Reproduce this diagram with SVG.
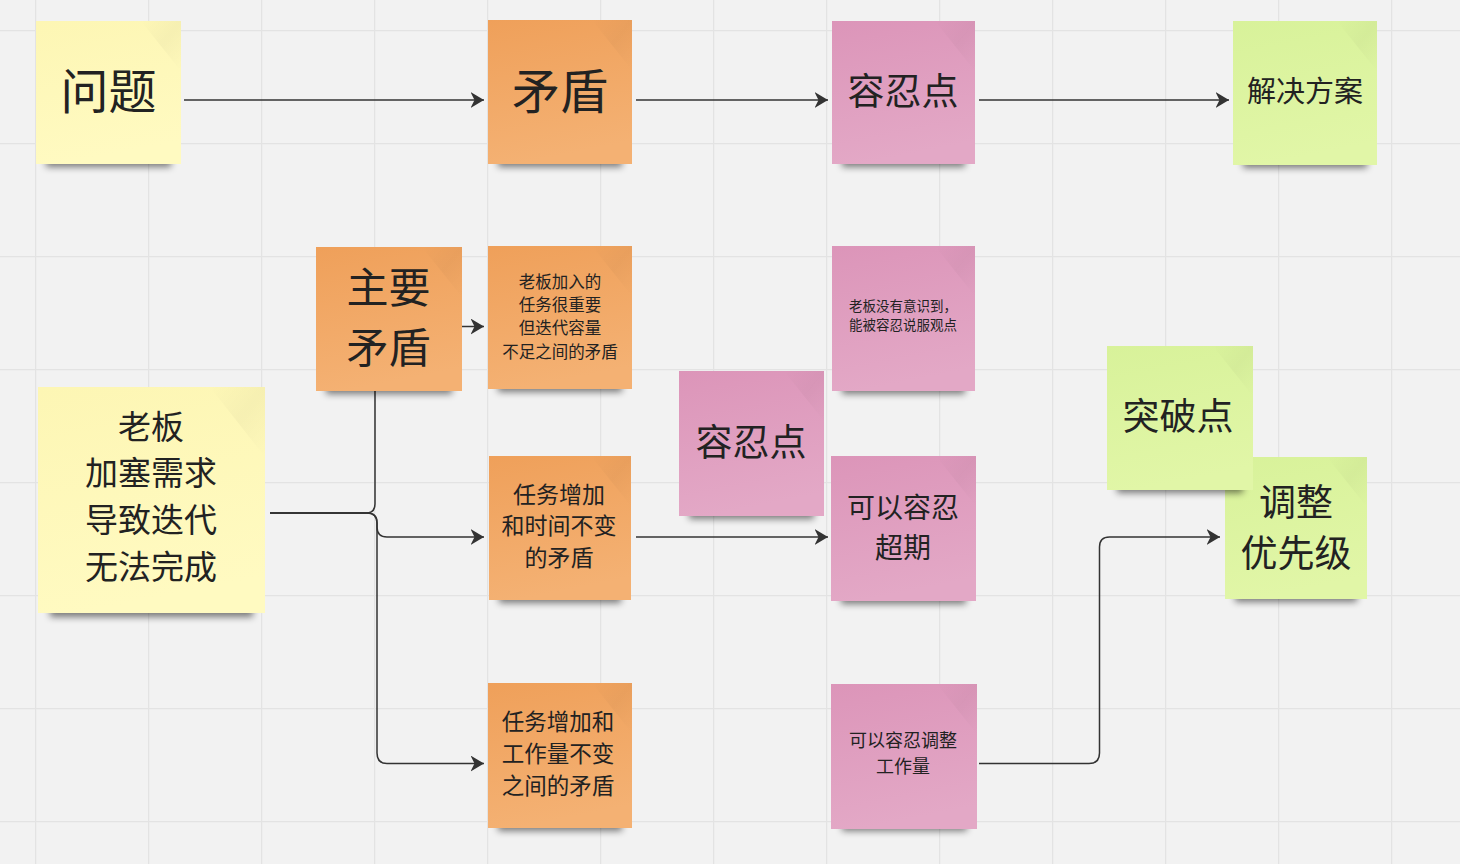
<svg xmlns="http://www.w3.org/2000/svg" width="1460" height="864" viewBox="0 0 1460 864">
<defs>
<pattern id="grid" x="35" y="30" width="113" height="113" patternUnits="userSpaceOnUse">
<path d="M0,0 V113 M0,0 H113" fill="none" stroke="#e3e3e3" stroke-width="2.5"/>
</pattern>
<linearGradient id="gY" x1="0" y1="0" x2="0.2" y2="1"><stop offset="0" stop-color="#fdf6b4"/><stop offset="1" stop-color="#fffac1"/></linearGradient>
<linearGradient id="gO" x1="0" y1="0" x2="0.2" y2="1"><stop offset="0" stop-color="#efa05a"/><stop offset="1" stop-color="#f4b173"/></linearGradient>
<linearGradient id="gP" x1="0" y1="0" x2="0.2" y2="1"><stop offset="0" stop-color="#dc95b9"/><stop offset="1" stop-color="#e3a8c6"/></linearGradient>
<linearGradient id="gG" x1="0" y1="0" x2="0.2" y2="1"><stop offset="0" stop-color="#d8f29a"/><stop offset="1" stop-color="#e1f6a7"/></linearGradient>
<linearGradient id="gF" x1="0" y1="0" x2="1" y2="1"><stop offset="0" stop-color="#000" stop-opacity="0"/><stop offset="0.5" stop-color="#000" stop-opacity="0.03"/><stop offset="1" stop-color="#000" stop-opacity="0"/></linearGradient>
<filter id="blur" x="-20%" y="-100%" width="140%" height="300%"><feGaussianBlur stdDeviation="3.5"/></filter>
<marker id="arr" viewBox="0 0 14 16" markerWidth="14" markerHeight="16" refX="13.5" refY="8" orient="auto" markerUnits="userSpaceOnUse">
<path d="M0,0 L13.5,8 L0,16 L4,8 Z" fill="#333"/>
</marker>
</defs>
<style>
.bg{fill:#f2f2f2}
.sh{fill:#000;opacity:0.5;filter:url(#blur)}
.y{fill:url(#gY)}
.o{fill:url(#gO)}
.p{fill:url(#gP)}
.g{fill:url(#gG)}
.fold{fill:url(#gF)}
text{font-family:"Noto Sans CJK SC","Noto Sans CJK JP",sans-serif;fill:#222;text-anchor:middle;dominant-baseline:central}
.c{fill:none;stroke:#333;stroke-width:1.5}
.a{marker-end:url(#arr)}
</style>
<rect class="bg" x="0" y="0" width="1460" height="864"/>
<rect x="0" y="0" width="1460" height="864" fill="url(#grid)"/>

<g id="connectors">
<path class="c a" d="M184,100 H484"/>
<path class="c a" d="M636,100 H828"/>
<path class="c a" d="M979,100 H1229"/>
<path class="c a" d="M462,326.5 H484"/>
<path class="c" d="M270,513 H366 Q375,513 375,504 V391"/>
<path class="c a" d="M270,513 H367 Q377,513 377,523 V527 Q377,537 387,537 H484"/>
<path class="c a" d="M270,513 H367 Q377,513 377,523 V753 Q377,763.5 387,763.5 H484"/>
<path class="c a" d="M636,537 H828"/>
<path class="c a" d="M979,763.5 H1089 Q1099.5,763.5 1099.5,753 V547 Q1099.5,537 1109.5,537 H1220"/>
</g>

<g id="node-wenti">
<rect class="sh" x="46" y="152" width="125" height="15"/>
<rect class="y" x="36" y="21" width="145" height="143"/>
<polygon class="fold" points="141,21 181,21 181,71"/>
<text x="108.5" y="88" font-size="48">问题</text>
</g>

<g id="node-maodun">
<rect class="sh" x="498" y="152" width="124" height="15"/>
<rect class="o" x="488" y="20" width="144" height="144"/>
<polygon class="fold" points="592,20 632,20 632,70"/>
<text x="560" y="88" font-size="48">矛盾</text>
</g>

<g id="node-rongren-top">
<rect class="sh" x="842" y="152" width="123" height="15"/>
<rect class="p" x="832" y="21" width="143" height="143"/>
<polygon class="fold" points="935,21 975,21 975,71"/>
<text x="903" y="88.5" font-size="37">容忍点</text>
</g>

<g id="node-jiejue">
<rect class="sh" x="1243" y="153" width="124" height="15"/>
<rect class="g" x="1233" y="21" width="144" height="144"/>
<polygon class="fold" points="1337,21 1377,21 1377,71"/>
<text x="1305" y="89" font-size="29">解决方案</text>
</g>

<g id="node-zhuyao">
<rect class="sh" x="326" y="379" width="126" height="15"/>
<rect class="o" x="316" y="247" width="146" height="144"/>
<polygon class="fold" points="422,247 462,247 462,297"/>
<text x="388.5" y="284" font-size="42">主要</text>
<text x="388.5" y="344" font-size="42">矛盾</text>
</g>

<g id="node-laoban-jiaru">
<rect class="sh" x="498" y="377" width="124" height="15"/>
<rect class="o" x="488" y="246" width="144" height="143"/>
<polygon class="fold" points="592,246 632,246 632,296"/>
<text x="560" y="280.5" font-size="16.5">老板加入的</text>
<text x="560" y="304" font-size="16.5">任务很重要</text>
<text x="560" y="327" font-size="16.5">但迭代容量</text>
<text x="560" y="350.5" font-size="16.5">不足之间的矛盾</text>
</g>

<g id="node-laoban-meiyou">
<rect class="sh" x="842" y="379" width="123" height="15"/>
<rect class="p" x="832" y="246" width="143" height="145"/>
<polygon class="fold" points="935,246 975,246 975,296"/>
<text x="903" y="305" font-size="13.5">老板没有意识到，</text>
<text x="903" y="324" font-size="13.5">能被容忍说服观点</text>
</g>

<g id="node-laoban-jiasai">
<rect class="sh" x="50" y="601" width="203" height="16"/>
<rect class="y" x="38" y="387" width="227" height="226"/>
<polygon class="fold" points="210,387 265,387 265,457"/>
<text x="151" y="424.5" font-size="33">老板</text>
<text x="151" y="470.5" font-size="33">加塞需求</text>
<text x="151" y="517.5" font-size="33">导致迭代</text>
<text x="151" y="564.5" font-size="33">无法完成</text>
</g>

<g id="node-rongren-mid">
<rect class="sh" x="689" y="504" width="125" height="15"/>
<rect class="p" x="679" y="371" width="145" height="145"/>
<polygon class="fold" points="784,371 824,371 824,421"/>
<text x="751" y="439.5" font-size="37">容忍点</text>
</g>

<g id="node-renwu-shijian">
<rect class="sh" x="499" y="588" width="122" height="15"/>
<rect class="o" x="489" y="456" width="142" height="144"/>
<polygon class="fold" points="591,456 631,456 631,506"/>
<text x="559" y="492.5" font-size="23">任务增加</text>
<text x="559" y="524" font-size="23">和时间不变</text>
<text x="559" y="555.5" font-size="23">的矛盾</text>
</g>

<g id="node-chaoqi">
<rect class="sh" x="841" y="589" width="125" height="15"/>
<rect class="p" x="831" y="456" width="145" height="145"/>
<polygon class="fold" points="936,456 976,456 976,506"/>
<text x="903" y="505.5" font-size="28">可以容忍</text>
<text x="903" y="545.5" font-size="28">超期</text>
</g>

<g id="node-tiaozheng">
<rect class="sh" x="1235" y="587" width="122" height="15"/>
<rect class="g" x="1225" y="457" width="142" height="142"/>
<polygon class="fold" points="1327,457 1367,457 1367,507"/>
<text x="1296" y="499.5" font-size="37">调整</text>
<text x="1296" y="550.5" font-size="37">优先级</text>
</g>

<g id="node-tupo">
<rect class="sh" x="1117" y="478" width="126" height="15"/>
<rect class="g" x="1107" y="346" width="146" height="144"/>
<polygon class="fold" points="1213,346 1253,346 1253,396"/>
<text x="1178" y="413.5" font-size="37">突破点</text>
</g>

<g id="node-renwu-gongzuo">
<rect class="sh" x="498" y="816" width="124" height="15"/>
<rect class="o" x="488" y="683" width="144" height="145"/>
<polygon class="fold" points="592,683 632,683 632,733"/>
<text x="558" y="720" font-size="22.5">任务增加和</text>
<text x="558" y="752" font-size="22.5">工作量不变</text>
<text x="558" y="784" font-size="22.5">之间的矛盾</text>
</g>

<g id="node-gongzuoliang">
<rect class="sh" x="842" y="816" width="125" height="15"/>
<rect class="p" x="831" y="684" width="146" height="145"/>
<polygon class="fold" points="937,684 977,684 977,734"/>
<text x="903" y="739" font-size="18">可以容忍调整</text>
<text x="903" y="765" font-size="18">工作量</text>
</g>
</svg>
